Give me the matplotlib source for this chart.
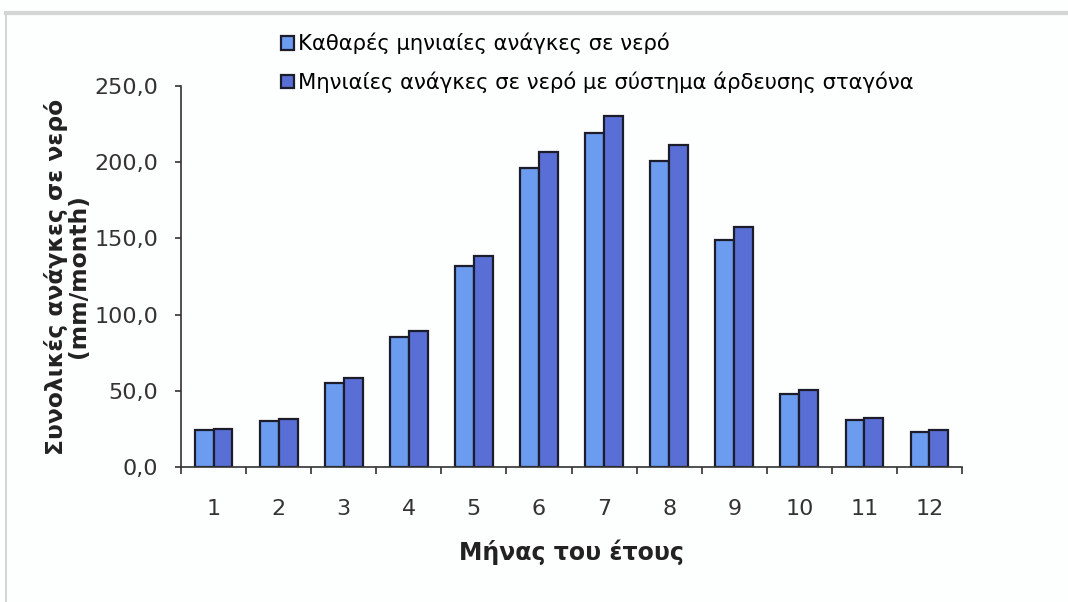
import numpy as np
import matplotlib
matplotlib.use("Agg")
import matplotlib.pyplot as plt
from matplotlib.ticker import FuncFormatter, FixedLocator
from matplotlib.lines import Line2D

months = [1, 2, 3, 4, 5, 6, 7, 8, 9, 10, 11, 12]
net_need = [24.1, 30.1, 54.9, 85.1, 131.6, 196.5, 219.0, 200.9, 148.9, 47.8, 30.9, 23.2]
drip_need = [25.2, 31.8, 58.6, 89.3, 138.2, 206.4, 230.0, 211.4, 157.4, 50.2, 32.4, 24.3]
series_names = ["Καθαρές μηνιαίες ανάγκες σε νερό",
                "Μηνιαίες ανάγκες σε νερό με σύστημα άρδευσης σταγόνα"]

light = "#6b9cf0"
dark = "#5a6fd6"

plt.rcParams['font.family'] = ['DejaVu Sans']
fig = plt.figure(figsize=(10.68, 6.02), dpi=100)
fig.patch.set_facecolor("#fdfefe")

# frame lines of the chart area
fig.add_artist(Line2D([6 / 1068, 1.0], [1 - 13 / 602, 1 - 13 / 602],
                      color="#d4d6d6", lw=3, transform=fig.transFigure))
fig.add_artist(Line2D([6 / 1068, 6 / 1068], [0.0, 1 - 13 / 602],
                      color="#d4d6d6", lw=1.5, transform=fig.transFigure))

ax = fig.add_axes([181 / 1068, 0.2243, 0.7313, 0.6329])
ax.set_facecolor("#fdfefe")

x = np.array(months)
w = 0.29
ax.bar(x - w / 2, net_need, w, color=light, edgecolor="#1c1c2a", linewidth=1.6,
       label=series_names[0])
ax.bar(x + w / 2, drip_need, w, color=dark, edgecolor="#1c1c2a", linewidth=1.6,
       label=series_names[1])

ax.set_xlim(0.5, 12.5)
ax.set_ylim(0, 250)
ax.set_yticks([0, 50, 100, 150, 200, 250])
ax.yaxis.set_major_formatter(FuncFormatter(lambda v, p: f"{v:.1f}".replace(".", ",")))
ax.set_xticks(x)
ax.set_xticklabels([str(m) for m in months])
ax.xaxis.set_minor_locator(FixedLocator(np.arange(0.5, 13, 1.0)))
ax.tick_params(axis="x", which="major", length=0, pad=23, labelsize=16, colors="#333333")
ax.tick_params(axis="x", which="minor", length=5, width=1.2, color="#333333")
ax.tick_params(axis="y", length=4.5, width=1.2, pad=12, labelsize=16, colors="#333333")

for s in ["top", "right"]:
    ax.spines[s].set_visible(False)
for s in ["left", "bottom"]:
    ax.spines[s].set_color("#333333")
    ax.spines[s].set_linewidth(1.2)

ax.set_xlabel("Μήνας του έτους", fontsize=17, fontweight="bold", color="#222222")
ax.xaxis.set_label_coords(0.5, -0.19)
ax.set_ylabel("Συνολικές ανάγκες σε νερό\n(mm/month)", fontsize=16.8, fontweight="bold",
              color="#222222", linespacing=0.95)
ax.yaxis.set_label_coords(-0.1165, 0.5)

fig.legend(loc="upper left", bbox_to_anchor=(281 / 1068, 1 - 33 / 602), frameon=False,
           fontsize=15.2, handlelength=0.6, handleheight=0.6, handletextpad=0.2,
           labelspacing=0.8, borderaxespad=0, borderpad=0)

fig.savefig("out.png", dpi=100, facecolor=fig.get_facecolor())
